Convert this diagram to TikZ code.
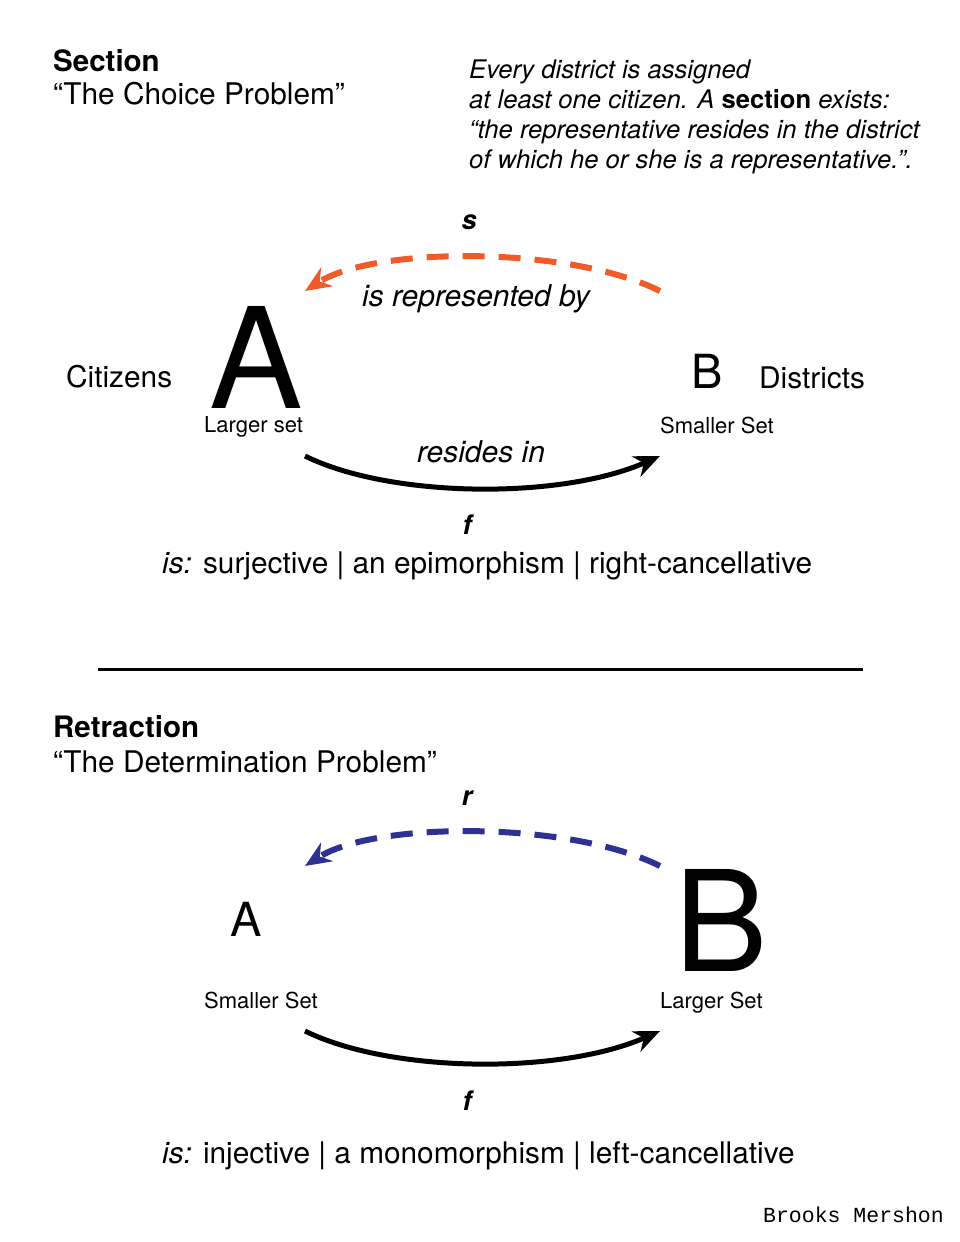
\documentclass[tikz,border=0pt]{standalone}
\usepackage{fontspec}
\usepackage{xcolor}
\usepackage{tikz}
\setmainfont{TeX Gyre Heros}
\setmonofont{Liberation Mono}
\usetikzlibrary{arrows.meta,positioning}
\definecolor{choiceorange}{RGB}{241,90,41}
\definecolor{retractblue}{RGB}{46,49,146}
\newcommand{\pxsize}[1]{\fontsize{#1}{#1}\selectfont}
\tikzset{
  heading/.style={anchor=base west, inner sep=0pt, font=\pxsize{29.5}\bfseries},
  subheading/.style={anchor=base west, inner sep=0pt, font=\pxsize{29.8}},
  bigset/.style={anchor=base west, inner sep=0pt, text depth=0pt, font=\pxsize{140}},
  smallset/.style={anchor=base west, inner sep=0pt, text depth=0pt, font=\pxsize{47}},
  setname/.style={anchor=base west, inner sep=0pt, font=\pxsize{29.8}},
  setsize/.style={anchor=base west, inner sep=0pt, text depth=0pt, font=\pxsize{22}},
  maplabel/.style={anchor=base, inner sep=0pt, font=\pxsize{27}\bfseries\itshape},
  rellabel/.style={anchor=base, inner sep=0pt, font=\pxsize{30}\itshape},
  propline/.style={anchor=base west, inner sep=0pt, font=\pxsize{29.8}},
  maparrow/.style={-{Stealth[length=26pt, width=22pt]}, line width=5pt},
  backarrow/.style={-{Stealth[length=26pt, width=22pt]}, line width=6pt, dash pattern=on 22pt off 14pt}
}
\begin{document}
\begin{tikzpicture}[x=1pt, y=-1pt]
\useasboundingbox (0,0) rectangle (960,1242);
% section
\node[heading] (sec) at (53,71) {Section};
\node[subheading] (choice) at (53,104) {“The Choice Problem”};
\node[anchor=north west, inner sep=0pt, align=left, font=\fontsize{25.6}{30}\selectfont\itshape] (note) at (469,60)
  {Every district is assigned\\at least one citizen. A \textup{\bfseries section} exists:\\“the representative resides in the district\\of which he or she is a representative.”.};
\node[setname] (cit) at (66,387) {Citizens};
\node[bigset] (A) at (209,408) {A};
\node[setsize] (Alarge) at (204,432) {Larger set};
\node[smallset] (B) at (691,388) {B};
\node[setname] (dist) at (759,388) {Districts};
\node[setsize] (Bsmall) at (660,433) {Smaller Set};
\node[maplabel] (s) at (469,229) {s};
\node[rellabel] (rep) at (476,306) {is represented by};
\node[rellabel] (res) at (481,462) {resides in};
\node[maplabel] (f) at (467,534) {f};
\node[propline] (surj) at (162,573) {\textit{is:} surjective | an epimorphism | right-cancellative};
\coordinate (sFrom) at (660,291);
\coordinate (sTo) at (305,291);
\coordinate (fFrom) at (305,456);
\coordinate (fTo) at (660,456);
\draw[backarrow, choiceorange] (sFrom) .. controls (570,246) and (375,246) .. (sTo);
\draw[maparrow] (fFrom) .. controls (390,498) and (560,500) .. (fTo);
% divider
\draw[line width=3pt] (98,669) -- (863,669);
% retraction
\node[heading] (ret) at (53,737) {Retraction};
\node[subheading] (determ) at (53,772) {“The Determination Problem”};
\node[smallset] (A2) at (230,936) {A};
\node[setsize] (A2small) at (204,1008) {Smaller Set};
\node[bigset] (B2) at (674,971) {B};
\node[setsize] (B2large) at (660,1008) {Larger Set};
\node[maplabel] (r) at (467,805) {r};
\node[maplabel] (f2) at (467,1110) {f};
\node[propline] (inj) at (162,1163) {\textit{is:} injective | a monomorphism | left-cancellative};
\coordinate (rFrom) at (660,866);
\coordinate (rTo) at (305,866);
\coordinate (f2From) at (305,1031);
\coordinate (f2To) at (660,1031);
\draw[backarrow, retractblue] (rFrom) .. controls (570,821) and (375,821) .. (rTo);
\draw[maparrow] (f2From) .. controls (390,1073) and (560,1075) .. (f2To);
\node[anchor=base east, inner sep=0pt, font=\pxsize{21.5}\ttfamily] (author) at (944,1222) {Brooks Mershon};
\end{tikzpicture}
\end{document}
